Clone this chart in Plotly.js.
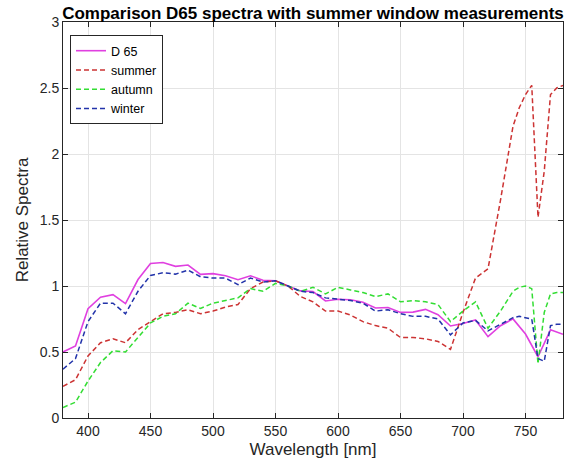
<!DOCTYPE html>
<html>
<head>
<meta charset="utf-8">
<script src="https://cdn.plot.ly/plotly-3.0.1.min.js"></script>
<style>
html,body{margin:0;padding:0;background:#fff;}
#chart{width:569px;height:465px;}
</style>
</head>
<body>
<div id="chart"></div>
<script>
// Wavelengths (nm)
const wlD65 = [380,390,400,410,420,430,440,450,460,470,480,490,500,510,520,530,540,550,560,570,580,590,600,610,620,630,640,650,660,670,680,690,700,710,720,730,740,750,760,770,780];
const wlMeas = [380,390,400,410,420,430,440,450,460,470,480,490,500,510,520,530,540,550,560,570,580,590,600,610,620,630,640,650,660,670,680,690,700,710,720,730,740,745,750,755,760,765,770,775,780];

// Relative spectra
const d65 = [0.500,0.546,0.828,0.915,0.934,0.867,1.049,1.170,1.178,1.149,1.159,1.088,1.094,1.078,1.048,1.077,1.044,1.040,1.000,0.963,0.958,0.887,0.900,0.896,0.877,0.833,0.837,0.800,0.802,0.823,0.783,0.697,0.716,0.743,0.616,0.699,0.751,0.636,0.464,0.668,0.634];
const summer = [0.24,0.29,0.47,0.57,0.60,0.57,0.67,0.73,0.79,0.80,0.82,0.79,0.81,0.84,0.86,0.98,1.03,1.04,1.00,0.92,0.88,0.81,0.81,0.78,0.73,0.70,0.68,0.61,0.61,0.60,0.58,0.52,0.80,1.06,1.13,1.65,2.21,2.35,2.45,2.52,1.52,1.87,2.45,2.50,2.52];
const autumn = [0.08,0.12,0.28,0.42,0.51,0.50,0.61,0.72,0.77,0.79,0.87,0.83,0.87,0.89,0.91,0.98,0.96,1.02,1.00,0.96,0.99,0.94,0.99,0.97,0.95,0.92,0.94,0.88,0.89,0.88,0.86,0.73,0.81,0.88,0.68,0.81,0.96,0.99,1.00,0.98,0.41,0.80,0.94,0.95,0.95];
const winter = [0.37,0.45,0.73,0.87,0.87,0.79,0.96,1.08,1.10,1.09,1.12,1.07,1.06,1.06,1.01,1.06,1.03,1.04,1.00,0.96,0.95,0.91,0.90,0.89,0.87,0.81,0.82,0.79,0.77,0.77,0.75,0.63,0.72,0.74,0.66,0.71,0.76,0.77,0.76,0.75,0.45,0.43,0.70,0.71,0.71];

const seriesNames = ['D 65','summer','autumn','winter'];

const FONT = 'Liberation Sans, Arial, Helvetica, sans-serif';

const traces = [
  {x: wlD65, y: d65, name: seriesNames[0], mode: 'lines', line: {color: '#e040e0', width: 1.6}},
  {x: wlMeas, y: summer, name: seriesNames[1], mode: 'lines', line: {color: '#cc3333', width: 1.5, dash: '5px,3px'}},
  {x: wlMeas, y: autumn, name: seriesNames[2], mode: 'lines', line: {color: '#33dd33', width: 1.5, dash: '5px,3px'}},
  {x: wlMeas, y: winter, name: seriesNames[3], mode: 'lines', line: {color: '#2233aa', width: 1.5, dash: '5px,3px'}}
];

const axisCommon = {
  showline: true, mirror: 'ticks', linecolor: '#262626', linewidth: 1,
  ticks: 'inside', ticklen: 5, tickcolor: '#262626',
  showgrid: true, gridcolor: '#e4e4e4', gridwidth: 1,
  zeroline: false,
  tickfont: {family: FONT, size: 14, color: '#262626'}
};

const layout = {
  width: 569, height: 465,
  margin: {l: 63, r: 6, t: 22, b: 47},
  paper_bgcolor: '#ffffff', plot_bgcolor: '#ffffff',
  font: {family: FONT, color: '#262626'},
  title: {
    text: '<b>Comparison D65 spectra with summer window measurements</b>',
    font: {family: FONT, size: 17, color: '#000000'},
    x: 0.5, xref: 'paper', xanchor: 'center',
    y: 1, yref: 'paper', yanchor: 'bottom', pad: {b: 3}
  },
  xaxis: Object.assign({}, axisCommon, {
    range: [380, 780], tickmode: 'array',
    tickvals: [400,450,500,550,600,650,700,750],
    ticktext: ['400','450','500','550','600','650','700','750'],
    title: {text: 'Wavelength [nm]', font: {family: FONT, size: 17, color: '#262626'}, standoff: 5}
  }),
  yaxis: Object.assign({}, axisCommon, {
    range: [0, 3], tickmode: 'array',
    tickvals: [0,0.5,1,1.5,2,2.5,3],
    ticktext: ['0','0.5','1','1.5','2','2.5','3'],
    title: {text: 'Relative Spectra', font: {family: FONT, size: 17, color: '#262626'}, standoff: 6}
  }),
  showlegend: true,
  legend: {
    x: 0.014, y: 0.967, xanchor: 'left', yanchor: 'top',
    bgcolor: '#ffffff', bordercolor: '#262626', borderwidth: 1,
    font: {family: FONT, size: 12.5, color: '#000000'},
    tracegroupgap: 0, itemwidth: 30
  }
};

Plotly.newPlot('chart', traces, layout, {displayModeBar: false, staticPlot: true});
</script>
</body>
</html>
